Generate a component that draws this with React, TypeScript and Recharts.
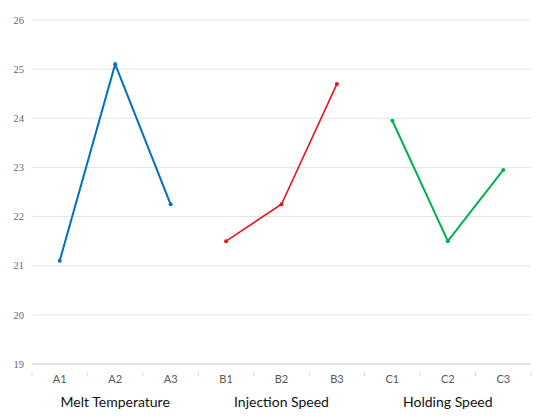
import { LineChart, Line, XAxis, YAxis, CartesianGrid } from 'recharts'

const categories = ['A1', 'A2', 'A3', 'B1', 'B2', 'B3', 'C1', 'C2', 'C3']
const groupLabels = ['Melt Temperature', 'Injection Speed', 'Holding Speed']
const meltTemperature = [21.1, 25.1, 22.25]
const injectionSpeed = [21.5, 22.25, 24.7]
const holdingSpeed = [23.95, 21.5, 22.95]
const yTicks = [19, 20, 21, 22, 23, 24, 25, 26]
const xTicks = [0, 0.5, 1, 1.5, 2, 2.5, 3, 3.5, 4, 4.5, 5, 5.5, 6, 6.5, 7, 7.5, 8, 8.5, 9]

// one row per category, each series only fills its own three slots
const data = categories.map((cat, i) => {
  const g = Math.floor(i / 3)
  const k = i % 3
  return {
    x: i + 0.5,
    cat,
    melt: g === 0 ? meltTemperature[k] : null,
    inj: g === 1 ? injectionSpeed[k] : null,
    hold: g === 2 ? holdingSpeed[k] : null,
  }
})

function XTick(props: any) {
  const { x, y, payload } = props
  const v = payload.value as number
  if (Number.isInteger(v)) {
    return <line x1={x} x2={x} y1={y} y2={y + 4} stroke="#d9d9d9" />
  }
  const idx = Math.floor(v)
  const isMid = idx % 3 === 1
  return (
    <g>
      <text x={x} y={y + 11} textAnchor="middle" fill="#595959" fontSize={11} fontFamily="Lato, sans-serif">
        {categories[idx]}
      </text>
      {isMid && (
        <text x={x} y={y + 35} textAnchor="middle" fill="#111" fontSize={14} fontFamily="Lato, sans-serif">
          {groupLabels[(idx - 1) / 3]}
        </text>
      )}
    </g>
  )
}

export default function App() {
  return (
    <div style={{ position: 'fixed', left: 0, top: 0, width: 550, height: 419, background: '#fff' }}>
      <LineChart width={550} height={419} data={data} margin={{ top: 20, right: 19, left: 0, bottom: 0 }}>
        <CartesianGrid stroke="#e4e4e4" vertical={false} />
        <XAxis
          dataKey="x"
          type="number"
          domain={[0, 9]}
          ticks={xTicks}
          interval={0}
          tick={<XTick />}
          tickLine={false}
          axisLine={{ stroke: '#d9d9d9' }}
          height={55}
        />
        <YAxis
          domain={[19, 26]}
          ticks={yTicks}
          width={32}
          axisLine={false}
          tickLine={false}
          tick={{ fill: '#666', fontSize: 10.5, fontFamily: "'Liberation Serif', serif" }}
        />
        <Line dataKey="melt" stroke="#0070c0" strokeWidth={2} dot={{ r: 2, fill: '#0070c0', strokeWidth: 0 }} isAnimationActive={false} />
        <Line dataKey="inj" stroke="#e8131b" strokeWidth={1.6} dot={{ r: 2, fill: '#e8131b', strokeWidth: 0 }} isAnimationActive={false} />
        <Line dataKey="hold" stroke="#00b050" strokeWidth={2} dot={{ r: 2, fill: '#00b050', strokeWidth: 0 }} isAnimationActive={false} />
      </LineChart>
    </div>
  )
}
